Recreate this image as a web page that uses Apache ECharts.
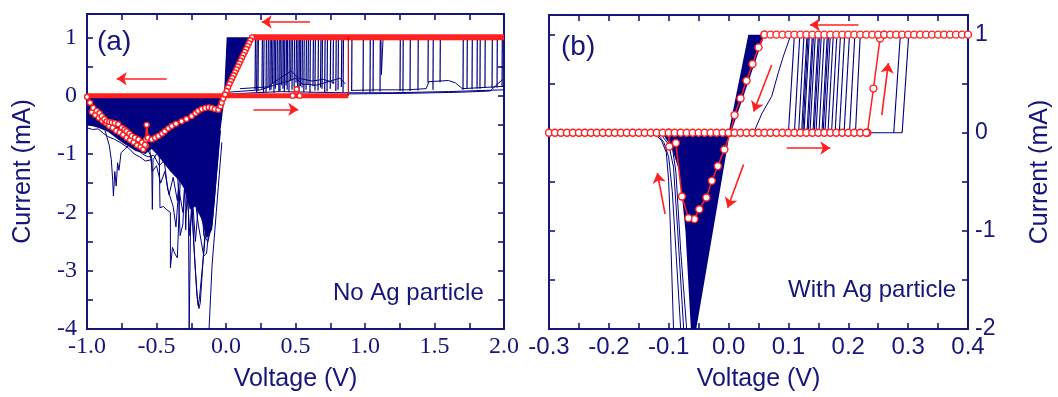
<!DOCTYPE html>
<html>
<head>
<meta charset="utf-8">
<script src="https://cdn.jsdelivr.net/npm/echarts/dist/echarts.min.js"></script>
<style>
  html, body { margin: 0; padding: 0; background: #fff; }
  #chart { width: 1058px; height: 397px; }
</style>
</head>
<body>
<div id="chart"></div>
<script>
const NAVY = '#000080'
const AXIS = '#15157a'
const RED = '#ff2020'

// ---------- panel (a): no Ag particle ----------
// red reference sweep
const redA_top = [[2.0, 1.0], [0.187, 1.0]]
const redA_diag = [
  [0.187, 1.0], [0.175, 0.95], [0.165, 0.9], [0.155, 0.85], [0.145, 0.8], [0.135, 0.75],
  [0.125, 0.7], [0.115, 0.65], [0.105, 0.6], [0.095, 0.55], [0.085, 0.5], [0.075, 0.45],
  [0.065, 0.4], [0.055, 0.35], [0.045, 0.3], [0.035, 0.25], [0.025, 0.2], [0.015, 0.14],
  [0.005, 0.08], [-0.007, 0.02],
]
const redA_zero = [[-1.0, 0.0], [0.88, 0.0]]
const redA_jump = [[0.88, 0.0], [0.88, 1.0]]
const redA_bump = [[0.48, 0.0], [0.508, 0.11], [0.53, 0.0]]
const redA_neg = [
  [-1.0, -0.02], [-0.978, -0.12], [-0.955, -0.21], [-0.93, -0.26], [-0.91, -0.3], [-0.894, -0.35],
  [-0.875, -0.4], [-0.858, -0.44], [-0.84, -0.45], [-0.822, -0.46], [-0.8, -0.47], [-0.775, -0.49],
  [-0.75, -0.55], [-0.73, -0.58], [-0.715, -0.61], [-0.695, -0.65], [-0.678, -0.69], [-0.655, -0.72],
  [-0.63, -0.75], [-0.605, -0.8], [-0.583, -0.84], [-0.575, -0.75], [-0.571, -0.5], [-0.562, -0.72],
  [-0.535, -0.75], [-0.51, -0.72], [-0.487, -0.69], [-0.46, -0.65], [-0.44, -0.61], [-0.415, -0.56],
  [-0.39, -0.52], [-0.36, -0.48], [-0.32, -0.44], [-0.285, -0.4], [-0.247, -0.35], [-0.22, -0.3],
  [-0.2, -0.26], [-0.175, -0.23], [-0.15, -0.21], [-0.125, -0.2], [-0.103, -0.21], [-0.08, -0.23],
  [-0.055, -0.24], [-0.04, -0.18], [-0.031, -0.12], [-0.02, -0.05], [-0.007, 0.02],
]
const redA_neg2 = [
  [-0.965, -0.28], [-0.94, -0.33], [-0.915, -0.38], [-0.89, -0.43], [-0.865, -0.47], [-0.84, -0.52],
  [-0.815, -0.55], [-0.79, -0.6], [-0.765, -0.63], [-0.74, -0.67], [-0.715, -0.72], [-0.69, -0.76],
  [-0.665, -0.8], [-0.64, -0.85], [-0.615, -0.88], [-0.595, -0.92], [-0.575, -0.86],
]

// dense blue regions (polygons)
const fillA = [
  [[-0.015, 0.0], [0.005, 1.0], [0.175, 1.0], [-0.002, 0.0]],
  [[-1.0, -0.04], [-0.03, -0.04], [-0.02, -0.25], [-0.1, -0.35], [-0.25, -0.5], [-0.4, -0.7],
   [-0.5, -0.85], [-0.58, -1.0], [-0.65, -0.95], [-0.75, -0.8], [-0.85, -0.62], [-0.92, -0.55], [-1.0, -0.5]],
  [[-0.01, -0.02], [-0.04, -0.6], [-0.06, -1.2], [-0.08, -1.8], [-0.1, -2.3], [-0.14, -2.45],
   [-0.18, -2.1], [-0.22, -1.9], [-0.26, -1.95], [-0.3, -1.6], [-0.34, -1.45], [-0.4, -1.3],
   [-0.45, -1.15], [-0.5, -1.0], [-0.56, -0.85], [-0.45, -0.65], [-0.3, -0.45], [-0.15, -0.25],
   [-0.05, -0.2]],
]

// individual blue sweeps
const linesA = [
  [[-1.0, -0.45], [-0.95, -0.5], [-0.9, -0.48], [-0.87, -0.56], [-0.84, -0.62], [-0.8, -0.68], [-0.76, -0.7],
   [-0.72, -0.8], [-0.68, -0.85], [-0.64, -0.92], [-0.6, -1.0], [-0.56, -1.05], [-0.52, -1.02], [-0.48, -1.2], [-0.44, -1.1]],
  [[-1.0, -0.55], [-0.96, -0.58], [-0.92, -0.57], [-0.88, -0.65], [-0.85, -0.7], [-0.8, -0.75], [-0.75, -0.82],
   [-0.7, -0.9], [-0.66, -1.0], [-0.62, -1.05], [-0.58, -1.12], [-0.54, -1.1]],
  [[-0.87, -0.6], [-0.84, -0.85], [-0.825, -1.1], [-0.815, -1.45], [-0.81, -1.72], [-0.8, -1.3], [-0.79, -1.55],
   [-0.78, -1.15], [-0.77, -1.28], [-0.755, -0.98], [-0.73, -0.92], [-0.7, -0.85]],
  [[-0.56, -0.95], [-0.535, -1.05], [-0.53, -1.95], [-0.525, -1.1], [-0.5, -1.0]],
  [[-0.48, -1.0], [-0.475, -1.92], [-0.45, -1.9], [-0.43, -1.95], [-0.4, -2.0], [-0.4, -2.95], [-0.385, -2.6],
   [-0.37, -2.7], [-0.35, -2.78], [-0.345, -2.8], [-0.33, -1.5]],
  [[-0.3, -1.2], [-0.27, -2.0], [-0.265, -4.0], [-0.255, -2.2], [-0.24, -1.5]],
  [[-0.26, -1.3], [-0.24, -2.2], [-0.22, -3.0], [-0.205, -3.5], [-0.195, -3.65], [-0.185, -3.55], [-0.17, -3.0],
   [-0.15, -2.3], [-0.13, -1.6], [-0.11, -1.0]],
  [[-0.25, -1.5], [-0.23, -2.6], [-0.21, -3.4], [-0.2, -3.6], [-0.19, -3.45], [-0.16, -2.7], [-0.12, -1.6]],
  [[-0.24, -1.4], [-0.2, -2.2], [-0.16, -2.75], [-0.14, -2.7], [-0.11, -2.0], [-0.08, -1.2]],
  [[-0.03, -0.8], [-0.07, -2.0], [-0.1, -2.9], [-0.122, -4.0]],
  [[-0.3, -1.0], [-0.29, -2.3], [-0.28, -1.6], [-0.26, -2.4], [-0.24, -1.8], [-0.22, -2.5], [-0.2, -1.9]],
  [[-0.55, -0.9], [-0.53, -1.3], [-0.5, -1.2], [-0.47, -1.5], [-0.44, -1.3], [-0.41, -1.7], [-0.38, -1.4],
   [-0.35, -1.8], [-0.33, -1.3]],
  [[-0.45, -1.0], [-0.42, -1.6], [-0.38, -1.9], [-0.36, -2.25], [-0.34, -1.6], [-0.31, -2.0], [-0.29, -1.4]],
  [[-0.35, -1.2], [-0.33, -2.4], [-0.31, -2.2], [-0.3, -1.6]],
  [[-0.18, -1.5], [-0.16, -2.4], [-0.13, -2.5], [-0.1, -2.2], [-0.07, -1.4], [-0.04, -0.6]],
  [[-1.0, -0.3], [-0.95, -0.4], [-0.9, -0.45], [-0.85, -0.5], [-0.8, -0.55], [-0.75, -0.65], [-0.7, -0.72],
   [-0.65, -0.8], [-0.6, -0.85], [-0.55, -0.8]],
  // positive side baselines
  [[0.0, 0.02], [0.2, 0.05], [0.4, 0.07], [0.6, 0.06], [0.85, 0.05], [1.2, 0.05], [1.6, 0.07], [2.0, 0.1]],
  [[0.02, 0.06], [0.25, 0.1], [0.35, 0.18], [0.45, 0.25], [0.5, 0.3], [0.55, 0.2], [0.65, 0.18], [0.75, 0.25],
   [0.82, 0.3], [0.86, 0.2]],
  [[0.1, 0.12], [0.3, 0.15], [0.42, 0.35], [0.47, 0.42], [0.52, 0.3], [0.62, 0.25], [0.7, 0.28], [0.78, 0.22]],
  [[0.9, 0.09], [1.1, 0.1], [1.3, 0.1], [1.44, 0.12], [1.46, 0.24], [1.6, 0.26], [1.65, 0.22], [1.7, 0.12], [2.0, 0.16]],
  [[0.88, 0.03], [1.3, 0.04], [1.7, 0.06], [1.9, 0.08], [1.99, 0.28]],
  [[1.115, 0.98], [1.118, 0.36], [1.128, 0.38], [1.13, 0.98]],
]

// switching events: [V at bottom, I at bottom, V at top (1 mA)]
const forestA = [
  [0.209, 0.10, 0.212], [0.22, 0.06, 0.224], [0.230, 0.08, 0.233], [0.259, 0.12, 0.262], [0.27, 0.05, 0.274],
  [0.288, 0.06, 0.291], [0.302, 0.15, 0.305], [0.315, 0.09, 0.318], [0.324, 0.10, 0.327], [0.335, 0.2, 0.338],
  [0.345, 0.05, 0.348], [0.355, 0.12, 0.358], [0.367, 0.20, 0.370], [0.38, 0.07, 0.383], [0.388, 0.08, 0.391],
  [0.40, 0.18, 0.403], [0.410, 0.12, 0.413], [0.42, 0.06, 0.423], [0.432, 0.18, 0.435], [0.44, 0.1, 0.443],
  [0.453, 0.06, 0.456], [0.465, 0.25, 0.468], [0.475, 0.10, 0.478], [0.49, 0.14, 0.493], [0.504, 0.22, 0.507],
  [0.515, 0.07, 0.518], [0.525, 0.08, 0.528], [0.535, 0.16, 0.538], [0.547, 0.14, 0.550], [0.56, 0.06, 0.563],
  [0.576, 0.10, 0.579], [0.59, 0.2, 0.593], [0.604, 0.05, 0.607], [0.626, 0.16, 0.629], [0.64, 0.09, 0.643],
  [0.662, 0.09, 0.665], [0.68, 0.14, 0.683], [0.691, 0.12, 0.694], [0.71, 0.06, 0.713], [0.727, 0.07, 0.730],
  [0.75, 0.12, 0.753], [0.770, 0.20, 0.773], [0.79, 0.08, 0.793], [0.806, 0.10, 0.809], [0.83, 0.15, 0.833],
  [0.842, 0.06, 0.845], [0.904, 0.08, 0.906], [0.986, 0.07, 0.988], [1.036, 0.06, 1.038], [1.058, 0.07, 1.06],
  [1.108, 0.07, 1.11], [1.252, 0.08, 1.254], [1.273, 0.07, 1.275], [1.324, 0.08, 1.326], [1.381, 0.09, 1.383],
  [1.453, 0.22, 1.455], [1.489, 0.1, 1.491], [1.54, 0.23, 1.542], [1.705, 0.1, 1.707], [1.734, 0.12, 1.736],
  [1.77, 0.11, 1.772], [1.806, 0.12, 1.808], [1.827, 0.12, 1.829], [1.863, 0.13, 1.865], [1.914, 0.13, 1.916],
  [1.95, 0.14, 1.952], [1.986, 0.15, 1.988],
]

// sweep-direction arrows [[x1, y1], [x2, y2]]
const arrowsA = [
  [[0.604, 1.265], [0.257, 1.265]],
  [[-0.427, 0.29], [-0.786, 0.29]],
  [[0.197, -0.235], [0.52, -0.235]],
]

// ---------- panel (b): with Ag particle ----------
const redB_zeroX = [
  -0.30, -0.29, -0.28, -0.27, -0.26, -0.25, -0.24, -0.23, -0.22, -0.21, -0.20, -0.19, -0.18, -0.17,
  -0.16, -0.15, -0.14, -0.13, -0.12, -0.11, -0.10, -0.09, -0.08, -0.07, -0.06, -0.05, -0.04, -0.03,
  -0.02, -0.01, 0.00, 0.01, 0.02, 0.03, 0.04, 0.05, 0.06, 0.07, 0.08, 0.09, 0.10, 0.11, 0.12, 0.13,
  0.14, 0.15, 0.16, 0.17, 0.18, 0.19, 0.20, 0.21, 0.22, 0.23,
]
const redB_oneX = [
  0.06, 0.07, 0.08, 0.09, 0.10, 0.11, 0.12, 0.13, 0.14, 0.15, 0.16, 0.17, 0.18, 0.19, 0.20, 0.21, 0.22,
  0.23, 0.24, 0.25, 0.26, 0.27, 0.28, 0.29, 0.30, 0.31, 0.32, 0.33, 0.34, 0.35, 0.36, 0.37, 0.38, 0.39, 0.40,
]
const redB_loop = [
  [0.06, 1.0], [0.05, 0.87], [0.04, 0.70], [0.03, 0.53], [0.02, 0.35], [0.01, 0.18], [0.003, 0.0],
  [-0.007, -0.17], [-0.018, -0.34], [-0.028, -0.49], [-0.037, -0.66], [-0.049, -0.78], [-0.057, -0.88],
  [-0.067, -0.87], [-0.078, -0.65], [-0.088, -0.105], [-0.099, -0.14], [-0.10, 0.0],
]
const redB_set = [[0.232, 0.0], [0.242, 0.45], [0.253, 0.96], [0.26, 1.0]]

const fillB = [
  [[0.0, 0.0], [0.033, 1.0], [0.06, 1.0], [0.004, 0.0]],
  [[0.002, 0.0], [-0.054, -2.0], [-0.063, -2.0], [-0.072, -1.0], [-0.082, -0.4], [-0.095, -0.15],
   [-0.108, -0.03], [-0.105, 0.0]],
]

const linesB = [
  [[-0.125, 0.0], [-0.112, -0.08], [-0.104, -0.2], [-0.1, -0.5], [-0.097, -1.0], [-0.092, -2.0]],
  [[-0.12, 0.0], [-0.108, -0.1], [-0.1, -0.25], [-0.094, -0.6], [-0.088, -1.2], [-0.08, -2.0]],
  [[-0.115, 0.0], [-0.1, -0.12], [-0.092, -0.35], [-0.085, -1.0], [-0.075, -2.0]],
  [[-0.11, 0.0], [-0.095, -0.1], [-0.088, -0.4], [-0.08, -1.2], [-0.07, -2.0]],
  [[0.04, 0.0], [0.044, 0.03], [0.056, 0.2], [0.072, 0.37], [0.083, 0.61], [0.091, 0.77], [0.103, 0.98], [0.11, 1.0]],
  [[0.228, 0.0], [0.29, 0.0]],
]

// switching events: [V at 0 mA, V at 1 mA]
const forestB = [
  [0.100, 0.110], [0.110, 0.119], [0.117, 0.126], [0.122, 0.131], [0.124, 0.133], [0.126, 0.135],
  [0.131, 0.140], [0.133, 0.142], [0.136, 0.145], [0.141, 0.150], [0.143, 0.152], [0.146, 0.155],
  [0.151, 0.160], [0.156, 0.165], [0.158, 0.167], [0.161, 0.170], [0.166, 0.175], [0.172, 0.181],
  [0.178, 0.187], [0.185, 0.194], [0.193, 0.202], [0.202, 0.211], [0.212, 0.220], [0.276, 0.287],
  [0.290, 0.301],
]

const arrowsB = [
  [[0.217, 1.10], [0.136, 1.10]],
  [[0.072, 0.69], [0.042, 0.216]],
  [[0.256, 0.18], [0.267, 0.71]],
  [[0.097, -0.155], [0.17, -0.155]],
  [[-0.106, -0.83], [-0.119, -0.41]],
  [[0.025, -0.325], [-0.0015, -0.765]],
]

// ---------- builders ----------
const plainLine = (data, xi, yi, color, width) => ({
  type: 'line', xAxisIndex: xi, yAxisIndex: yi, data, symbol: 'none', silent: true,
  lineStyle: { color, width }, animation: false,
})

const markedLine = (data, xi, yi, size, lineWidth) => ({
  type: 'line', xAxisIndex: xi, yAxisIndex: yi, data, silent: true, animation: false,
  symbol: 'circle', symbolSize: size,
  itemStyle: { color: '#fff', borderColor: RED, borderWidth: 1.4 },
  lineStyle: { color: RED, width: lineWidth },
})

const polygons = (polys, xi, yi) => ({
  type: 'custom', xAxisIndex: xi, yAxisIndex: yi, silent: true, animation: false,
  data: polys.map(p => p[0]),
  renderItem: (params, api) => ({
    type: 'polygon',
    shape: { points: polys[params.dataIndex].map(p => api.coord(p)) },
    style: { fill: NAVY },
  }),
})

const arrowSeries = (arrows, xi, yi) => ({
  type: 'line', xAxisIndex: xi, yAxisIndex: yi, data: [], silent: true, animation: false,
  itemStyle: { color: RED },
  markLine: {
    silent: true, animation: false,
    symbol: ['none', 'arrow'], symbolSize: 10,
    label: { show: false },
    itemStyle: { color: RED },
    lineStyle: { color: RED, width: 1.6, type: 'solid' },
    data: arrows.map(([a, b]) => [{ coord: a }, { coord: b }]),
  },
})

const tickStyle = { inside: true, length: 6, lineStyle: { color: AXIS, width: 1.6 } }
const minor = { show: true, splitNumber: 2, length: 6, lineStyle: { color: AXIS, width: 1.6 } }
const axisLine = { onZero: false, lineStyle: { color: AXIS, width: 2 } }
const nameStyle = { fontFamily: 'Liberation Sans', fontSize: 25, color: AXIS }

const fmt1 = v => (Math.abs(v) < 1e-9 ? '0.0' : v.toFixed(1))
const fmtInt = v => (Math.abs(v - Math.round(v)) < 1e-9 ? String(Math.round(v)) : '')

const xBase = (grid, min, max, interval, pos, labels) => ({
  type: 'value', gridIndex: grid, min, max, interval, position: pos,
  axisLine, axisTick: tickStyle, minorTick: minor, splitLine: { show: false },
  axisLabel: labels || { show: false },
})

const yBase = (grid, min, max, pos, labels) => ({
  type: 'value', gridIndex: grid, min, max, interval: 0.5, position: pos,
  axisLine, axisTick: tickStyle, splitLine: { show: false },
  axisLabel: labels || { show: false },
})

const option = {
  animation: false,
  backgroundColor: '#fff',
  grid: [
    { left: 87, top: 14, width: 417, height: 316 },
    { left: 549, top: 15, width: 419, height: 315 },
  ],
  xAxis: [
    Object.assign(xBase(0, -1, 2, 0.5, 'bottom', {
      fontFamily: 'Liberation Serif', fontSize: 24, color: AXIS, margin: 6, formatter: fmt1,
    }), { name: 'Voltage (V)', nameLocation: 'middle', nameGap: 38, nameTextStyle: nameStyle }),
    xBase(0, -1, 2, 0.5, 'top'),
    Object.assign(xBase(1, -0.3, 0.4, 0.1, 'bottom', {
      fontFamily: 'Liberation Sans', fontSize: 24, color: AXIS, margin: 6, formatter: fmt1,
    }), { name: 'Voltage (V)', nameLocation: 'middle', nameGap: 38, nameTextStyle: nameStyle }),
    xBase(1, -0.3, 0.4, 0.1, 'top'),
  ],
  yAxis: [
    Object.assign(yBase(0, -4, 1.4, 'left', {
      fontFamily: 'Liberation Serif', fontSize: 24, color: AXIS, margin: 10, formatter: fmtInt,
    }), { name: 'Current (mA)', nameLocation: 'middle', nameGap: 51, nameRotate: 90, nameTextStyle: nameStyle }),
    yBase(0, -4, 1.4, 'right'),
    yBase(1, -2, 1.2, 'left'),
    Object.assign(yBase(1, -2, 1.2, 'right', {
      fontFamily: 'Liberation Sans', fontSize: 23, color: AXIS, margin: 7, formatter: fmtInt,
    }), { name: 'Current (mA)', nameLocation: 'middle', nameGap: 60, nameRotate: 90, nameTextStyle: nameStyle }),
  ],
  graphic: [
    { type: 'text', x: 97, y: 42, style: { text: '(a)', font: '28px "Liberation Sans"', fill: AXIS, verticalAlign: 'middle' } },
    { type: 'text', x: 561, y: 47, style: { text: '(b)', font: '28px "Liberation Sans"', fill: AXIS, verticalAlign: 'middle' } },
    { type: 'text', x: 333, y: 293, style: { text: 'No Ag particle', font: '24px "Liberation Sans"', fill: AXIS, verticalAlign: 'middle' } },
    { type: 'text', x: 788, y: 290, style: { text: 'With Ag particle', font: '24px "Liberation Sans"', fill: AXIS, verticalAlign: 'middle' } },
  ],
  series: [
    // panel (a)
    polygons(fillA, 0, 0),
    ...linesA.map(l => plainLine(l, 0, 0, NAVY, 1)),
    ...forestA.map(([xb, yb, xt]) => plainLine([[xb, yb], [xt, 1.0]], 0, 0, NAVY, 1.2)),
    plainLine(redA_top, 0, 0, RED, 6),
    plainLine(redA_zero, 0, 0, RED, 5),
    plainLine(redA_jump, 0, 0, '#c00018', 1.2),
    markedLine(redA_bump, 0, 0, 5, 1.5),
    markedLine(redA_neg2, 0, 0, 5, 2),
    markedLine(redA_neg, 0, 0, 5, 2),
    markedLine(redA_diag, 0, 0, 5, 2.5),
    arrowSeries(arrowsA, 0, 0),
    // panel (b)
    polygons(fillB, 2, 2),
    ...linesB.map(l => plainLine(l, 2, 2, NAVY, 1)),
    ...forestB.map(([xb, xt]) => plainLine([[xb, 0.0], [xt, 1.0]], 2, 2, NAVY, 1.1)),
    markedLine(redB_set, 2, 2, 7, 1.5),
    markedLine(redB_loop, 2, 2, 7, 1.5),
    markedLine(redB_zeroX.map(x => [x, 0.0]), 2, 2, 7, 1.5),
    markedLine(redB_oneX.map(x => [x, 1.0]), 2, 2, 7, 1.5),
    arrowSeries(arrowsB, 2, 2),
  ],
}

const chart = echarts.init(document.getElementById('chart'), null, { renderer: 'canvas' })
chart.setOption(option)
</script>
</body>
</html>
